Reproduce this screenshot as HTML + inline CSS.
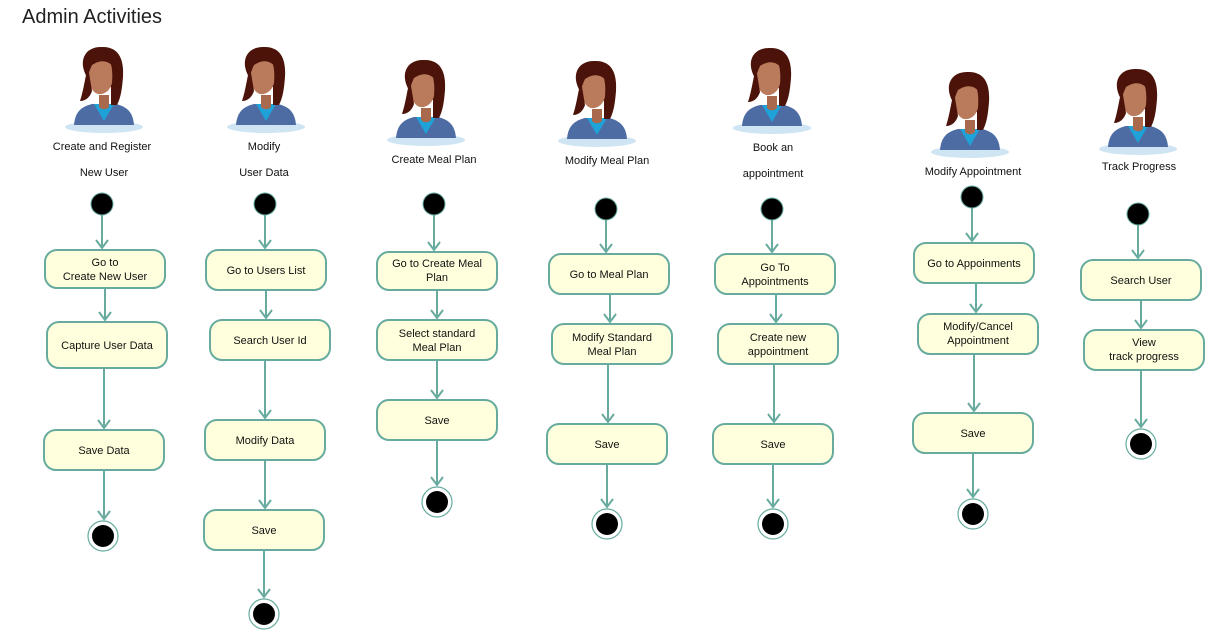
<!DOCTYPE html>
<html><head><meta charset="utf-8"><style>
html,body{margin:0;padding:0;background:#fff;}
svg{display:block;}
text{font-family:"Liberation Sans",sans-serif;font-size:11px;fill:#111;}
.n{fill:#ffffdd;stroke:#67ab9f;stroke-width:2;}
.l{stroke:#67ab9f;stroke-width:2;fill:none;}
.a{stroke:#67ab9f;stroke-width:2;fill:none;}
.s{fill:#000;stroke:#67ab9f;stroke-width:1;}
.e{fill:#fff;stroke:#67ab9f;stroke-width:1.2;}
</style></head><body>
<svg width="1211" height="630" viewBox="0 0 1211 630" xmlns="http://www.w3.org/2000/svg">
<defs>
<g id="av">
<ellipse cx="0" cy="0" rx="39" ry="6" fill="#cfe5f3"/>
<path d="M-30,-2 C-29,-14 -24,-20 -12,-23 L12,-23 C24,-20 29,-14 30,-2 Z" fill="#4d6ca3"/>
<path d="M-10,-23 L0,-6 L10,-23 Z" fill="#1ea2d8"/>
<path d="M-17,-50 C-26,-65 -20,-80 -3,-80 C16,-81 20,-66 19,-50 C18,-38 17,-30 13,-22 L7,-22 L7,-40 Z" fill="#4b1309"/>
<path d="M-5,-32 L5,-32 L5,-20 C2,-17 -2,-17 -5,-20 Z" fill="#a8694c"/>
<path d="M-16,-62 C-16,-74 -6,-77 2,-72 C8,-66 9,-55 8,-44 C6,-36 0,-32 -6,-33 C-13,-35 -17,-45 -16,-62 Z" fill="#ba7a5c"/>
<path d="M-17,-50 C-22,-62 -16,-77 -2,-78 C10,-78 14,-68 12,-56 C8,-64 0,-70 -12,-62 C-14,-58 -15,-54 -17,-50 Z" fill="#4b1309"/>
<path d="M-16,-60 C-19,-50 -20,-38 -24,-26 C-18,-26 -14,-30 -12,-36 Z" fill="#4b1309"/>
</g>
<marker id="m" viewBox="0 0 12 12" refX="6" refY="11" markerWidth="12" markerHeight="12" markerUnits="userSpaceOnUse" orient="auto-start-reverse"></marker>
</defs>
<text x="22" y="23" style="font-size:20px;fill:#222">Admin Activities</text>

<!-- avatars -->
<use href="#av" x="104" y="127"/>
<use href="#av" x="266" y="127"/>
<use href="#av" x="426" y="140"/>
<use href="#av" x="597" y="141"/>
<use href="#av" x="772" y="128"/>
<use href="#av" x="970" y="152"/>
<use href="#av" x="1138" y="149"/>

<g text-anchor="middle">
<text x="102" y="150">Create and Register</text>
<text x="104" y="176">New User</text>
<text x="264" y="150">Modify</text>
<text x="264" y="176">User Data</text>
<text x="434" y="163">Create Meal Plan</text>
<text x="607" y="164">Modify Meal Plan</text>
<text x="773" y="151">Book an</text>
<text x="773" y="177">appointment</text>
<text x="973" y="175">Modify Appointment</text>
<text x="1139" y="170">Track Progress</text>
</g>

<!-- col1 -->
<circle class="s" cx="102" cy="204" r="11"/>
<path class="l" d="M102,215V248M96,240l6,8 6,-8"/>
<rect class="n" x="45" y="250" width="120" height="38" rx="12"/>
<path class="l" d="M105,288V320M99,312l6,8 6,-8"/>
<rect class="n" x="47" y="322" width="120" height="46" rx="12"/>
<path class="l" d="M104,368V428M98,420l6,8 6,-8"/>
<rect class="n" x="44" y="430" width="120" height="40" rx="12"/>
<path class="l" d="M104,470V519M98,511l6,8 6,-8"/>
<circle class="e" cx="103" cy="536" r="15"/><circle cx="103" cy="536" r="11"/>

<!-- col2 -->
<circle class="s" cx="265" cy="204" r="11"/>
<path class="l" d="M265,215V248M259,240l6,8 6,-8"/>
<rect class="n" x="206" y="250" width="120" height="40" rx="12"/>
<path class="l" d="M266,290V318M260,310l6,8 6,-8"/>
<rect class="n" x="210" y="320" width="120" height="40" rx="12"/>
<path class="l" d="M265,360V418M259,410l6,8 6,-8"/>
<rect class="n" x="205" y="420" width="120" height="40" rx="12"/>
<path class="l" d="M265,460V508M259,500l6,8 6,-8"/>
<rect class="n" x="204" y="510" width="120" height="40" rx="12"/>
<path class="l" d="M264,550V597M258,589l6,8 6,-8"/>
<circle class="e" cx="264" cy="614" r="15"/><circle cx="264" cy="614" r="11"/>

<!-- col3 -->
<circle class="s" cx="434" cy="204" r="11"/>
<path class="l" d="M434,215V250M428,242l6,8 6,-8"/>
<rect class="n" x="377" y="252" width="120" height="38" rx="12"/>
<path class="l" d="M437,290V318M431,310l6,8 6,-8"/>
<rect class="n" x="377" y="320" width="120" height="40" rx="12"/>
<path class="l" d="M437,360V398M431,390l6,8 6,-8"/>
<rect class="n" x="377" y="400" width="120" height="40" rx="12"/>
<path class="l" d="M437,440V485M431,477l6,8 6,-8"/>
<circle class="e" cx="437" cy="502" r="15"/><circle cx="437" cy="502" r="11"/>

<!-- col4 -->
<circle class="s" cx="606" cy="209" r="11"/>
<path class="l" d="M606,220V252M600,244l6,8 6,-8"/>
<rect class="n" x="549" y="254" width="120" height="40" rx="12"/>
<path class="l" d="M610,294V322M604,314l6,8 6,-8"/>
<rect class="n" x="552" y="324" width="120" height="40" rx="12"/>
<path class="l" d="M608,364V422M602,414l6,8 6,-8"/>
<rect class="n" x="547" y="424" width="120" height="40" rx="12"/>
<path class="l" d="M607,464V507M601,499l6,8 6,-8"/>
<circle class="e" cx="607" cy="524" r="15"/><circle cx="607" cy="524" r="11"/>

<!-- col5 -->
<circle class="s" cx="772" cy="209" r="11"/>
<path class="l" d="M772,220V252M766,244l6,8 6,-8"/>
<rect class="n" x="715" y="254" width="120" height="40" rx="12"/>
<path class="l" d="M776,294V322M770,314l6,8 6,-8"/>
<rect class="n" x="718" y="324" width="120" height="40" rx="12"/>
<path class="l" d="M774,364V422M768,414l6,8 6,-8"/>
<rect class="n" x="713" y="424" width="120" height="40" rx="12"/>
<path class="l" d="M773,464V507M767,499l6,8 6,-8"/>
<circle class="e" cx="773" cy="524" r="15"/><circle cx="773" cy="524" r="11"/>

<!-- col6 -->
<circle class="s" cx="972" cy="197" r="11"/>
<path class="l" d="M972,208V241M966,233l6,8 6,-8"/>
<rect class="n" x="914" y="243" width="120" height="40" rx="12"/>
<path class="l" d="M976,283V312M970,304l6,8 6,-8"/>
<rect class="n" x="918" y="314" width="120" height="40" rx="12"/>
<path class="l" d="M974,354V411M968,403l6,8 6,-8"/>
<rect class="n" x="913" y="413" width="120" height="40" rx="12"/>
<path class="l" d="M973,453V497M967,489l6,8 6,-8"/>
<circle class="e" cx="973" cy="514" r="15"/><circle cx="973" cy="514" r="11"/>

<!-- col7 -->
<circle class="s" cx="1138" cy="214" r="11"/>
<path class="l" d="M1138,225V258M1132,250l6,8 6,-8"/>
<rect class="n" x="1081" y="260" width="120" height="40" rx="12"/>
<path class="l" d="M1141,300V328M1135,320l6,8 6,-8"/>
<rect class="n" x="1084" y="330" width="120" height="40" rx="12"/>
<path class="l" d="M1141,370V427M1135,419l6,8 6,-8"/>
<circle class="e" cx="1141" cy="444" r="15"/><circle cx="1141" cy="444" r="11"/>

<g text-anchor="middle">
<text x="105" y="266">Go to</text>
<text x="105" y="280">Create  New User</text>
<text x="107" y="349">Capture User Data</text>
<text x="104" y="454">Save Data</text>

<text x="266" y="274">Go to Users List</text>
<text x="270" y="344">Search  User Id</text>
<text x="265" y="444">Modify Data</text>
<text x="264" y="534">Save</text>

<text x="437" y="267">Go to Create Meal</text>
<text x="437" y="281">Plan</text>
<text x="437" y="337">Select standard</text>
<text x="437" y="351">Meal Plan</text>
<text x="437" y="424">Save</text>

<text x="609" y="278">Go to Meal Plan</text>
<text x="612" y="341">Modify Standard</text>
<text x="612" y="355">Meal Plan</text>
<text x="607" y="448">Save</text>

<text x="775" y="271">Go To</text>
<text x="775" y="285">Appointments</text>
<text x="778" y="341">Create new</text>
<text x="778" y="355">appointment</text>
<text x="773" y="448">Save</text>

<text x="974" y="267">Go to Appoinments</text>
<text x="978" y="330">Modify/Cancel</text>
<text x="978" y="344">Appointment</text>
<text x="973" y="437">Save</text>

<text x="1141" y="284">Search User</text>
<text x="1144" y="346">View</text>
<text x="1144" y="360">track progress</text>
</g>
</svg>
</body></html>
